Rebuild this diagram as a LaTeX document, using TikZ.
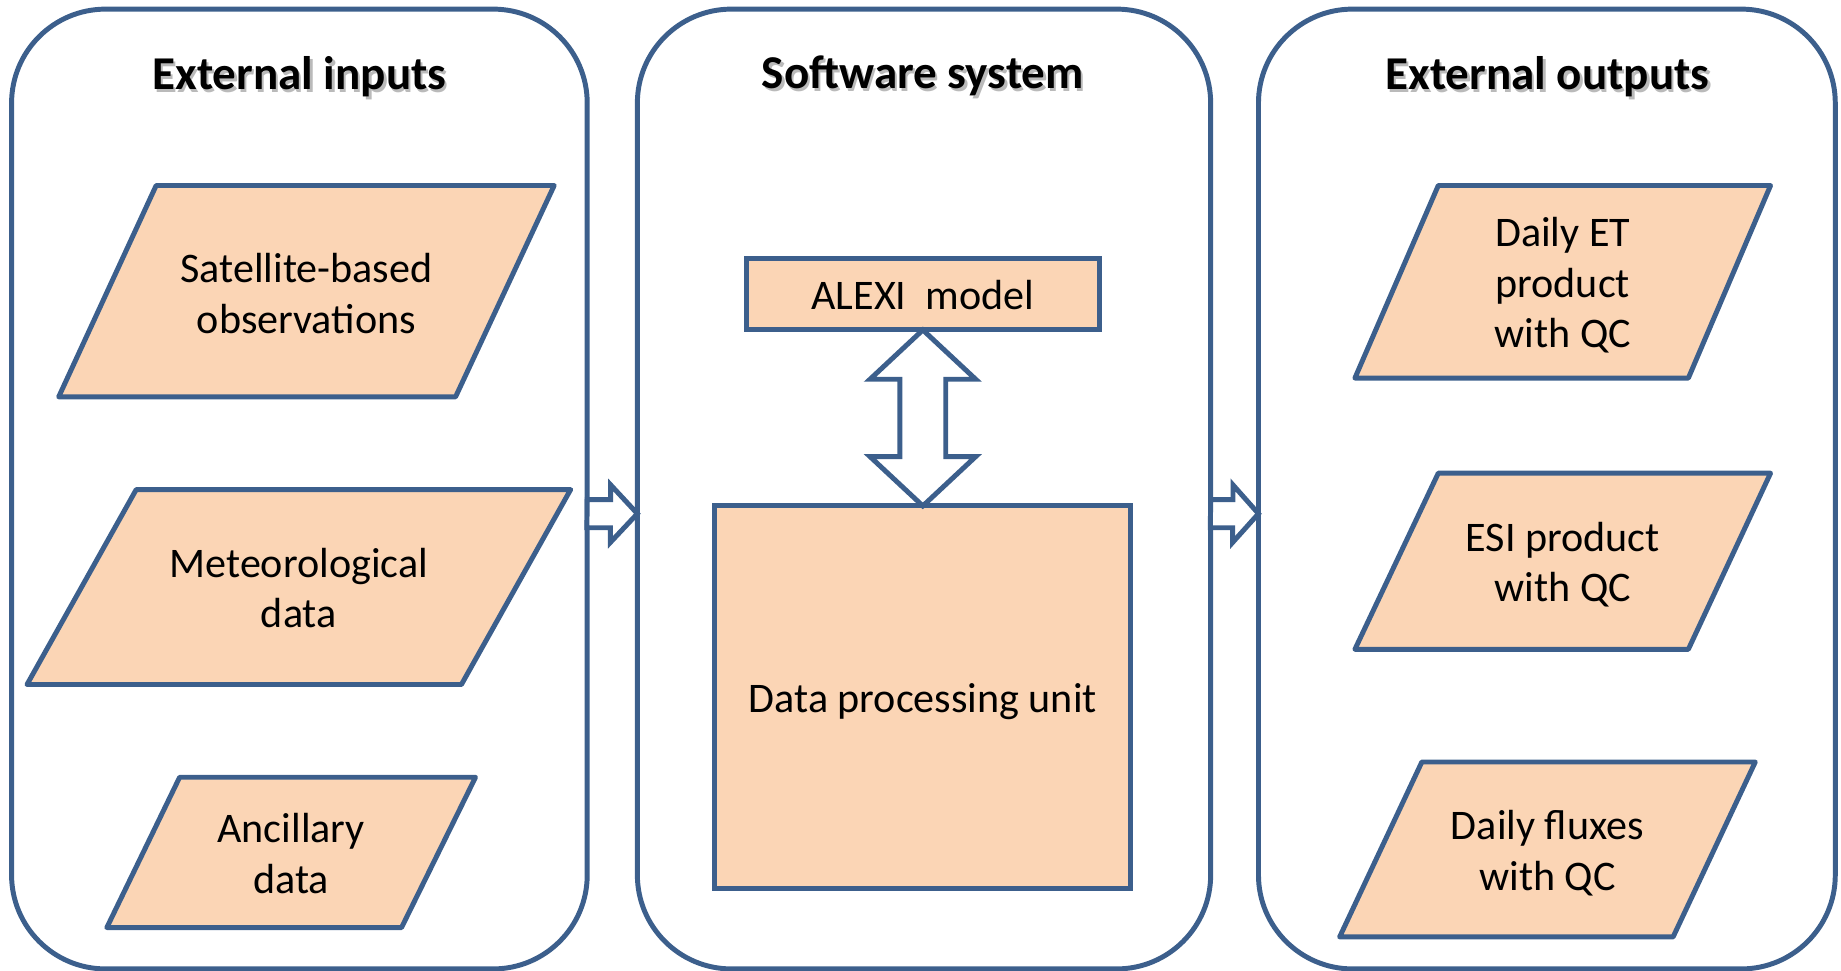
\documentclass[tikz,border=0pt]{standalone}
\usepackage{fontspec}
\setmainfont{Carlito}
\usetikzlibrary{calc}
\definecolor{edge}{HTML}{3C5F8C}
\definecolor{peach}{HTML}{FBD5B5}
\tikzset{
  panel/.style={draw=edge,line width=1.2pt,rounded corners=0.8cm,minimum width=4.9cm,minimum height=8.17cm,outer sep=0pt,inner sep=0pt},
  head/.style={font=\fontsize{11.4}{13}\selectfont\bfseries},
  para/.style={draw=edge,fill=peach,line width=1.2pt,line join=round},
  box/.style={draw=edge,fill=peach,line width=1.2pt,outer sep=0pt,inner sep=0pt},
  txt/.style={align=center,font=\fontsize{10.2}{12.24}\selectfont},
  blk/.style={draw=edge,fill=white,line width=1.2pt},
}
\begin{document}
\begin{tikzpicture}[x=0.01cm,y=0.01cm]
\useasboundingbox (0,0) rectangle (1568,-827);
% the three panels
\node[panel] (inputs) at (255,-416.5) {};
\node[panel,minimum width=4.88cm] (software) at (787,-416.5) {};
\node[panel,minimum width=4.91cm] (outputs) at (1317.5,-416.5) {};
% titles, with a soft shadow
\foreach \n/\x/\t in {hin/255/External inputs,hsw/786/Software system,hout/1318/External outputs}{
  \node[head,text=black!45,opacity=.6] at (\x+2,-67.5) {\t};
  \node[head] (\n) at (\x,-65) {\t};
}
% inputs
\draw[para] (133,-158) -- (472,-158) -- (388,-338) -- (50,-338) -- cycle;
\node[txt] (sat) at (261,-250) {Satellite-based\\observations};
\draw[para] (116,-417) -- (486,-417) -- (393,-583) -- (23,-583) -- cycle;
\node[txt] (met) at (254.5,-501) {Meteorological\\data};
\draw[para] (153,-662) -- (405,-662) -- (342,-790) -- (91,-790) -- cycle;
\node[txt] (anc) at (248,-727) {Ancillary\\data};
% software
\node[box,minimum width=3cm,minimum height=0.61cm] (alexi) at (786,-250.5) {};
\node[txt] (alexit) at (786,-251.5) {ALEXI\ \ model};
\node[box,minimum width=3.54cm,minimum height=3.26cm] (dpu) at (786,-594) {};
\node[txt] (dput) at (786,-598) {Data processing unit};
\draw[blk] (alexi.south) -- ++(-45,-42) -- ++(25.5,0) -- ($(dpu.north)+(-19.5,42)$) -- ++(-25.5,0)
  -- (dpu.north) -- ++(45,42) -- ++(-25.5,0) -- ($(alexi.south)+(19.5,-42)$) -- ++(25.5,0) -- cycle;
% outputs
\draw[para] (1225,-158) -- (1508,-158) -- (1438,-322) -- (1154,-322) -- cycle;
\node[txt] (et) at (1331,-243) {Daily ET\\product\\with QC};
\draw[para] (1225,-403) -- (1508,-403) -- (1438,-553) -- (1154,-553) -- cycle;
\node[txt] (esi) at (1331,-481) {ESI product\\with QC};
\draw[para] (1211,-649) -- (1495,-649) -- (1425,-798) -- (1141,-798) -- cycle;
\node[txt] (flux) at (1318,-726.5) {Daily fluxes\\with QC};
% block arrows between the panels
\coordinate (mid) at (0,-437.5);
\draw[blk] ($(inputs.east |- mid)+(0,12)$) -- ++(20,0) -- ++(0,12.5) -- (software.west |- mid)
  -- ++(-23,-24.5) -- ++(0,12.5) -- ++(-20,0) -- cycle;
\draw[blk] ($(software.east |- mid)+(0,12)$) -- ++(19,0) -- ++(0,12.5) -- (outputs.west |- mid)
  -- ++(-22,-24.5) -- ++(0,12.5) -- ++(-19,0) -- cycle;
\end{tikzpicture}
\end{document}
